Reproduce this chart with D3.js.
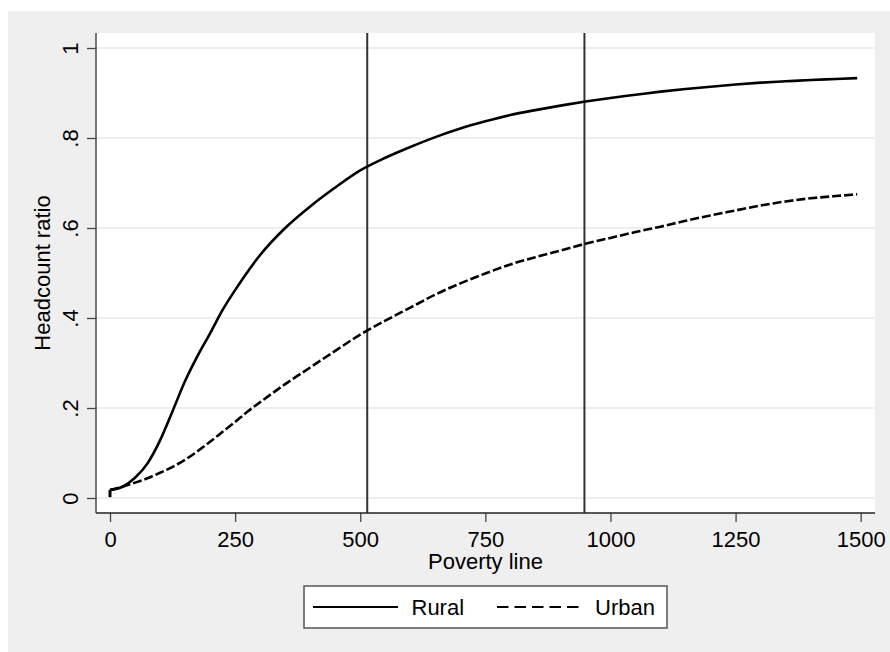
<!DOCTYPE html>
<html>
<head>
<meta charset="utf-8">
<script src="https://cdn.jsdelivr.net/npm/d3@7"></script>
<style>
  html, body { margin: 0; padding: 0; background: #ffffff; }
  svg { display: block; }
  text { font-family: "Liberation Sans", Arial, Helvetica, sans-serif; fill: #000; }
</style>
</head>
<body>
<svg id="chart" width="890" height="652"></svg>
<script>
// ---- data ----
const povertyLine = [0, 0, 25, 50, 75, 100, 125, 150, 175, 200, 225, 250, 275, 300, 350, 400, 450, 500,
  550, 600, 650, 700, 750, 800, 850, 900, 950, 1000, 1050, 1100, 1150, 1200, 1250, 1300, 1350, 1400, 1450, 1493];
const rural = [0.002, 0.018, 0.025, 0.045, 0.077, 0.128, 0.193, 0.260, 0.316, 0.366, 0.418, 0.462, 0.503, 0.540,
  0.600, 0.648, 0.690, 0.728, 0.756, 0.780, 0.802, 0.821, 0.837, 0.851, 0.862, 0.872, 0.881, 0.889, 0.896,
  0.903, 0.909, 0.914, 0.919, 0.923, 0.926, 0.929, 0.931, 0.933];
const urban = [0.002, 0.018, 0.025, 0.034, 0.044, 0.056, 0.069, 0.085, 0.104, 0.125, 0.147, 0.169, 0.192, 0.213,
  0.253, 0.290, 0.327, 0.363, 0.394, 0.423, 0.452, 0.477, 0.499, 0.519, 0.535, 0.550, 0.565, 0.578, 0.591,
  0.603, 0.616, 0.628, 0.639, 0.650, 0.659, 0.666, 0.671, 0.675];
const refLines = [514, 948];
const xTicks = [0, 250, 500, 750, 1000, 1250, 1500];
const yTicks = [0, 0.2, 0.4, 0.6, 0.8, 1];
const yTickLabels = ["0", ".2", ".4", ".6", ".8", "1"];
const seriesNames = ["Rural", "Urban"];
const xTitle = "Poverty line";
const yTitle = "Headcount ratio";

// ---- layout ----
const svg = d3.select("#chart");
const plot = { left: 96, right: 875, top: 33, bottom: 513 };
const x = d3.scaleLinear().domain([0, 1500]).range([110, 860.7]);
const y = d3.scaleLinear().domain([0, 1]).range([498, 48]);

// background
svg.append("rect").attr("x", 8).attr("y", 11).attr("width", 882).attr("height", 641).attr("fill", "#efefef");
svg.append("rect").attr("x", plot.left).attr("y", plot.top)
  .attr("width", plot.right - plot.left).attr("height", plot.bottom - plot.top).attr("fill", "#ffffff");

// gridlines
svg.append("g").selectAll("line").data(yTicks).join("line")
  .attr("x1", plot.left).attr("x2", plot.right)
  .attr("y1", d => y(d)).attr("y2", d => y(d))
  .attr("stroke", "#e8e8e8").attr("stroke-width", 1.5);

// reference lines
svg.append("g").selectAll("line").data(refLines).join("line")
  .attr("x1", d => x(d)).attr("x2", d => x(d))
  .attr("y1", plot.top).attr("y2", plot.bottom)
  .attr("stroke", "#333").attr("stroke-width", 2);

// data lines: initial vertical step drawn linearly, the rest smoothed
const lineStep = d3.line().x(d => x(d[0])).y(d => y(d[1]));
const lineSmooth = d3.line().x(d => x(d[0])).y(d => y(d[1])).curve(d3.curveMonotoneX);
function drawSeries(vals, dash) {
  const pts = povertyLine.map((v, i) => [v, vals[i]]);
  const g = svg.append("g").attr("fill", "none").attr("stroke", "#000").attr("stroke-width", 2.6);
  g.append("path").datum(pts.slice(0, 2)).attr("d", lineStep);
  const p = g.append("path").datum(pts.slice(1)).attr("d", lineSmooth).attr("stroke-linejoin", "round");
  if (dash) p.attr("stroke-dasharray", dash);
}
drawSeries(rural, null);
drawSeries(urban, "9,3");

// axes
const yAxis = d3.axisLeft(y).tickValues(yTicks).tickSize(9).tickFormat((d, i) => yTickLabels[i]);
const gy = svg.append("g").attr("transform", `translate(${plot.left},0)`).call(yAxis);
gy.select(".domain").remove();
gy.selectAll(".tick line").attr("stroke", "#444").attr("stroke-width", 1.3);
gy.selectAll(".tick text")
  .attr("transform", "rotate(-90)")
  .attr("x", 0).attr("y", -18).attr("dy", 0)
  .attr("text-anchor", "middle")
  .style("font-size", "22px").style("font-family", "Liberation Sans, Arial, sans-serif").attr("fill", "#000");
svg.append("line").attr("x1", plot.left).attr("x2", plot.left).attr("y1", plot.top).attr("y2", plot.bottom)
  .attr("stroke", "#555").attr("stroke-width", 1.6);

const xAxis = d3.axisBottom(x).tickValues(xTicks).tickSize(9).tickFormat(d3.format("d"));
const gx = svg.append("g").attr("transform", `translate(0,${plot.bottom})`).call(xAxis);
gx.select(".domain").remove();
gx.selectAll(".tick line").attr("stroke", "#444").attr("stroke-width", 1.3);
gx.selectAll(".tick text")
  .attr("y", 33.5).attr("dy", 0)
  .style("font-size", "22px").style("font-family", "Liberation Sans, Arial, sans-serif").attr("fill", "#000");
svg.append("line").attr("x1", plot.left).attr("x2", plot.right).attr("y1", plot.bottom).attr("y2", plot.bottom)
  .attr("stroke", "#222").attr("stroke-width", 1.6);

// axis titles
svg.append("text").attr("x", (plot.left + plot.right) / 2).attr("y", 569)
  .attr("text-anchor", "middle").style("font-size", "22px").text(xTitle);
svg.append("text").attr("transform", `translate(50,${(plot.top + plot.bottom) / 2}) rotate(-90)`)
  .attr("text-anchor", "middle").style("font-size", "22px").text(yTitle);

// legend
const lg = svg.append("g");
lg.append("rect").attr("x", 304).attr("y", 586).attr("width", 363).attr("height", 42)
  .attr("fill", "#fff").attr("stroke", "#555").attr("stroke-width", 1.5);
const legendItems = [
  { name: seriesNames[0], x1: 313, x2: 398, tx: 411.5, dash: null },
  { name: seriesNames[1], x1: 497, x2: 583, tx: 595, dash: "11.5,6" }
];
legendItems.forEach(it => {
  const l = lg.append("line").attr("x1", it.x1).attr("x2", it.x2).attr("y1", 607).attr("y2", 607)
    .attr("stroke", "#000").attr("stroke-width", 2);
  if (it.dash) l.attr("stroke-dasharray", it.dash);
  lg.append("text").attr("x", it.tx).attr("y", 615).style("font-size", "22px").text(it.name);
});
</script>
</body>
</html>
